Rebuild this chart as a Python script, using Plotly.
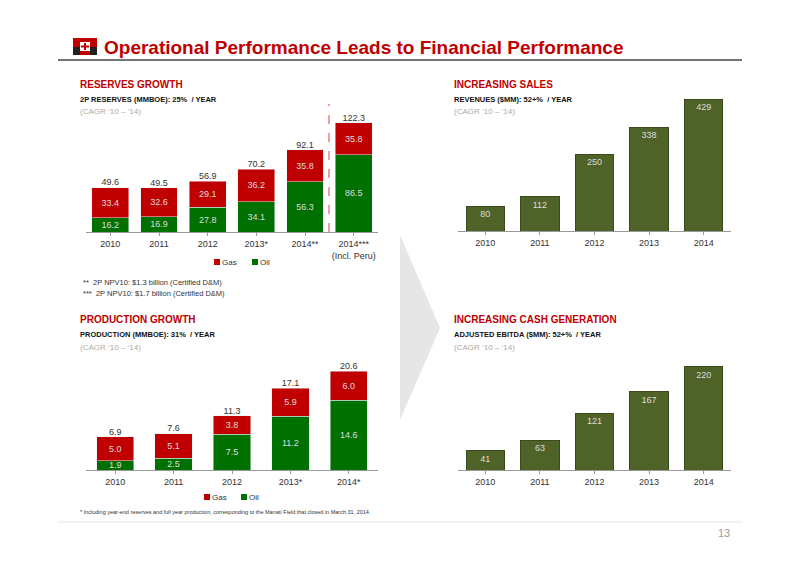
import plotly.graph_objects as go

# 储量 reserves
res_years = ["2010", "2011", "2012", "2013*", "2014**", "2014***<br>(Incl. Peru)"]
res_oil = [16.2, 16.9, 27.8, 34.1, 56.3, 86.5]
res_gas = [33.4, 32.6, 29.1, 36.2, 35.8, 35.8]
res_total = [49.6, 49.5, 56.9, 70.2, 92.1, 122.3]

# 产量 production
prod_years = ["2010", "2011", "2012", "2013*", "2014*"]
prod_oil = [1.9, 2.5, 7.5, 11.2, 14.6]
prod_gas = [5.0, 5.1, 3.8, 5.9, 6.0]
prod_total = [6.9, 7.6, 11.3, 17.1, 20.6]

sales_years = ["2010", "2011", "2012", "2013", "2014"]
sales = [80, 112, 250, 338, 429]
ebitda = [41, 63, 121, 167, 220]

RED = "#C00000"
GREEN = "#007000"
OLIVE = "#4F6228"
FONT = "Liberation Sans"

# page is drawn with an 8px body margin, so shift everything back
def fx(x):
    return (x - 8) / 800

def fy(y):
    return 1 - (y - 8) / 566

fig = go.Figure()

def stacked(xa, ya, cats, oil, gas, total, width):
    fig.add_trace(go.Bar(x=cats, y=oil, marker_color=GREEN, width=width, xaxis=xa, yaxis=ya,
                         text=[f"{v:.1f}" for v in oil], textposition="inside", insidetextanchor="middle",
                         textfont=dict(color="#dddddd", size=9), showlegend=False))
    fig.add_trace(go.Bar(x=cats, y=gas, marker_color=RED, width=width, xaxis=xa, yaxis=ya,
                         text=[f"{v:.1f}" for v in gas], textposition="inside", insidetextanchor="middle",
                         textfont=dict(color="#dddddd", size=9), showlegend=False))
    fig.add_trace(go.Scatter(x=cats, y=total, mode="text", text=[f"{v:.1f}" for v in total],
                             textposition="top center", textfont=dict(color="#333333", size=9),
                             xaxis=xa, yaxis=ya, showlegend=False, cliponaxis=False))

def simple(xa, ya, cats, vals):
    fig.add_trace(go.Bar(x=cats, y=vals, marker_color=OLIVE, width=0.7, xaxis=xa, yaxis=ya,
                         marker_line=dict(color="#3a4a1c", width=1),
                         text=[str(v) for v in vals], textposition="inside", insidetextanchor="end",
                         textfont=dict(color="#dddddd", size=9), showlegend=False))

stacked("x", "y", res_years, res_oil, res_gas, res_total, 0.76)
simple("x2", "y2", sales_years, sales)
stacked("x3", "y3", prod_years, prod_oil, prod_gas, prod_total, 0.64)
simple("x4", "y4", sales_years, ebitda)

ax = dict(showgrid=False, showline=True, linecolor="#999999", ticks="outside", ticklen=3,
          tickcolor="#999999", tickfont=dict(size=9, color="#333333"), fixedrange=True)
ay = dict(visible=False, fixedrange=True)

fig.update_layout(
    width=800, height=566, margin=dict(l=0, r=0, t=0, b=0),
    paper_bgcolor="white", plot_bgcolor="white", barmode="stack",
    font=dict(family=FONT),
    uniformtext=dict(mode="show", minsize=9),
    xaxis=dict(domain=[fx(86), fx(378)], anchor="y", **ax),
    yaxis=dict(domain=[fy(232), fy(107)], range=[0, 140], anchor="x", **ay),
    xaxis2=dict(domain=[fx(458), fx(731)], anchor="y2", **ax),
    yaxis2=dict(domain=[fy(231), fy(86.4)], range=[0, 470], anchor="x2", **ay),
    xaxis3=dict(domain=[fx(86), fx(378)], anchor="y3", **ax),
    yaxis3=dict(domain=[fy(470), fy(355)], range=[0, 24], anchor="x3", **ay),
    xaxis4=dict(domain=[fx(458), fx(731)], anchor="y4", **ax),
    yaxis4=dict(domain=[fy(470), fy(355)], range=[0, 245], anchor="x4", **ay),
)

def rect(x0, y0, x1, y1, color):
    return dict(type="rect", xref="paper", yref="paper", x0=fx(x0), x1=fx(x1),
                y0=fy(y1), y1=fy(y0), fillcolor=color, line=dict(width=0))

shapes = []
# grey arrow in middle
shapes.append(dict(type="path", xref="paper", yref="paper", layer="below",
                   path=f"M {fx(400)} {fy(235)} L {fx(440)} {fy(328)} L {fx(400)} {fy(420)} Z",
                   fillcolor="#e6e6e6", line=dict(width=0)))
# title rule
shapes.append(dict(type="line", xref="paper", yref="paper", x0=fx(58), x1=fx(742), y0=fy(60), y1=fy(60),
                   line=dict(color="#444444", width=1.5)))
# logo
shapes.append(rect(73, 38, 97, 55, RED))
shapes.append(rect(73, 47, 80, 55, "#222222"))
shapes.append(rect(90, 47, 97, 55, "#222222"))
shapes.append(rect(80, 42, 90, 51, "white"))
shapes.append(rect(84, 43, 86, 50, RED))
shapes.append(rect(81, 45.5, 89, 47.5, RED))
# dashed separator
shapes.append(dict(type="line", xref="paper", yref="paper", x0=fx(329), x1=fx(329),
                   y0=fy(232), y1=fy(104), line=dict(color="#e04040", width=1, dash="dash")))
# bottom rule
shapes.append(dict(type="line", xref="paper", yref="paper", x0=fx(58), x1=fx(742), y0=fy(522), y1=fy(522),
                   line=dict(color="#e4e4e4", width=1)))
# legend squares
for lx, ly, c in [(217, 262, RED), (255, 262, GREEN), (207, 497, RED), (244, 497, GREEN)]:
    shapes.append(rect(lx - 3, ly - 3, lx + 3, ly + 3, c))
fig.update_layout(shapes=shapes)

ann = []
def txt(x, y, s, size=9, color="#333333", bold=False, anchor="left"):
    if bold:
        s = f"<b>{s}</b>"
    ann.append(dict(x=fx(x), y=fy(y), xref="paper", yref="paper", text=s, showarrow=False,
                    xanchor=anchor, yanchor="middle", borderpad=0, font=dict(size=size, color=color, family=FONT)))

txt(103, 47, "Operational Performance Leads to Financial Performance", 19, RED, True)
blocks = [(79, 84, "RESERVES GROWTH", "2P RESERVES (MMBOE): 25%  / YEAR"),
          (453, 84, "INCREASING SALES", "REVENUES ($MM): 52+%  / YEAR"),
          (79, 319, "PRODUCTION GROWTH", "PRODUCTION (MMBOE): 31%  / YEAR"),
          (453, 319, "INCREASING CASH GENERATION", "ADJUSTED EBITDA ($MM): 52+%  / YEAR")]
for bx, by, head, sub in blocks:
    txt(bx, by, head, 10, RED, True)
    txt(bx, by + 15, sub, 7.5, "#111111", True)
    txt(bx, by + 28, "(CAGR ‘10 – ‘14)", 8, "#aaaaaa")
txt(221, 262, "Gas", 8)
txt(259, 262, "Oil", 8)
txt(211, 497, "Gas", 8)
txt(248, 497, "Oil", 8)
txt(82, 282, "**  2P NPV10: $1.3 billion (Certified D&M)", 7.5)
txt(82, 293, "***  2P NPV10: $1.7 billion (Certified D&M)", 7.5)
txt(79, 512, "* Including year-end reserves and full year production, corresponding to the Manatí Field that closed in March 31, 2014.", 5.5)
txt(731, 533, "13", 11, "#999999", anchor="right")
fig.update_layout(annotations=ann)

fig.write_html("out.html")
